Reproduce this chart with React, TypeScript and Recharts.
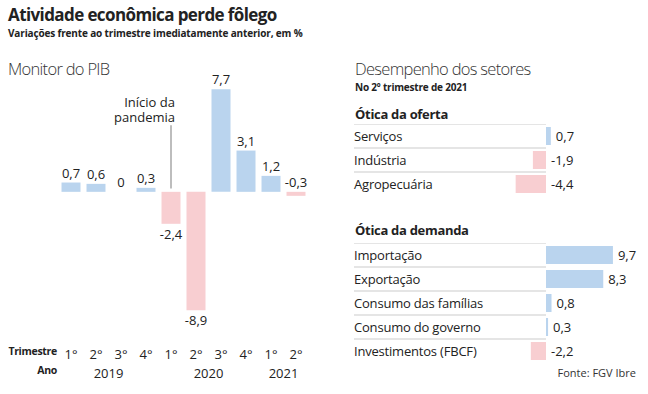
import React from 'react'
import { ComposedChart, BarChart, Bar, Line, XAxis, YAxis, Cell, LabelList, ReferenceLine } from 'recharts'

// Monitor do PIB (variação trimestral, %)
const quarters = ['1°', '2°', '3°', '4°', '1°', '2°', '3°', '4°', '1°', '2°']
const quarterYears = ['2019', '2019', '2019', '2019', '2020', '2020', '2020', '2020', '2021', '2021']
const pibValues = [0.7, 0.6, 0, 0.3, -2.4, -8.9, 7.7, 3.1, 1.2, -0.3]
const yearLabels = ['2019', '2020', '2021']

// Desempenho dos setores, 2º tri 2021
const supplySectors = ['Serviços', 'Indústria', 'Agropecuária']
const supplyValues = [0.7, -1.9, -4.4]
const demandSectors = ['Importação', 'Exportação', 'Consumo das famílias', 'Consumo do governo', 'Investimentos (FBCF)']
const demandValues = [9.7, 8.3, 0.8, 0.3, -2.2]

const BLUE = '#bad4ee'
const PINK = '#f8ced1'
const TEXT = '#222'
const FONT = '"Open Sans", "Noto Sans", sans-serif'

const fmt = (v: number) => String(v).replace('.', ',')

// small negatives get their label above the zero line, like the original
const labelAbove = (v: number) => v > -1

const pibData = pibValues.map((v, i) => ({
  key: `${quarters[i]} ${quarterYears[i]}`,
  q: quarters[i],
  year: quarterYears[i],
  value: v,
  anchor: labelAbove(v) ? Math.max(v, 0) : v,
}))
const supplyData = supplySectors.map((s, i) => ({ name: s, value: supplyValues[i] }))
const demandData = demandSectors.map((s, i) => ({ name: s, value: demandValues[i] }))

const PibLabel = (props: any) => {
  const { x, y, index } = props
  const v = pibData[index].value
  return (
    <text x={x} y={labelAbove(v) ? y - 5 : y + 15} textAnchor="middle" fontSize={13} fill={TEXT} fontFamily={FONT}>
      {fmt(v)}
    </text>
  )
}

const QuarterTick = (props: any) => {
  const { x, y, payload, index } = props
  const item = pibData[index]
  const count = pibData.filter((d) => d.year === item.year).length
  const first = pibData.findIndex((d) => d.year === item.year)
  const middle = first + Math.floor((count - 1) / 2)
  const showYear = index === middle && yearLabels.includes(item.year)
  return (
    <g>
      <text x={x} y={y + 26} textAnchor="middle" fontSize={13} fill={TEXT} fontFamily={FONT}>
        {item ? item.q : payload.value}
      </text>
      {showYear && (
        <text x={x + (count % 2 === 0 ? 12.5 : 0)} y={y + 45} textAnchor="middle" fontSize={13} fill={TEXT} fontFamily={FONT}>
          {item.year}
        </text>
      )}
    </g>
  )
}

const PandemicLabel = (props: any) => {
  const vb = props.viewBox || {}
  const x = vb.x ?? 0
  const y = Math.min(vb.y ?? 0, (vb.y ?? 0) + (vb.height ?? 0))
  return (
    <text textAnchor="end" fontSize={13} fill={TEXT} fontFamily={FONT}>
      <tspan x={x + 4} y={y - 18}>Início da</tspan>
      <tspan x={x + 4} y={y - 3}>pandemia</tspan>
    </text>
  )
}

const SectorTick = (props: any) => {
  const { y, payload } = props
  return (
    <g>
      <line x1={24} x2={216} y1={y - 12} y2={y - 12} stroke="#dcdcdc" strokeWidth={1.5} />
      <text x={24} y={y + 5} fontSize={13} letterSpacing={-0.2} fill={TEXT} fontFamily={FONT}>
        {payload.value}
      </text>
    </g>
  )
}

const SectorLabel = (props: any) => {
  const { x, y, width, height, value } = props
  const right = Math.max(x, x + width)
  return (
    <text x={right + 5} y={y + height / 2 + 5} fontSize={13} fill={TEXT} fontFamily={FONT}>
      {fmt(value)}
    </text>
  )
}

const SectorChart = ({ data, top }: { data: any[]; top: number }) => (
  <div style={{ position: 'absolute', left: 330, top }}>
    <BarChart
      width={318}
      height={data.length * 24}
      data={data}
      layout="vertical"
      margin={{ top: 0, right: 33, bottom: 0, left: 0 }}
      barSize={18}
    >
      <XAxis type="number" domain={[-5, 10]} hide />
      <YAxis type="category" dataKey="name" width={181.5} axisLine={false} tickLine={false} tick={<SectorTick />} interval={0} />
      <Bar dataKey="value" isAnimationActive={false}>
        {data.map((d, i) => (
          <Cell key={i} fill={d.value >= 0 ? BLUE : PINK} />
        ))}
        <LabelList dataKey="value" content={<SectorLabel />} />
      </Bar>
    </BarChart>
  </div>
)

export default function App() {
  return (
    <div style={{ position: 'absolute', left: 0, top: 0, width: 648, height: 394, background: '#fff', fontFamily: FONT, color: TEXT, overflow: 'hidden' }}>
      <div style={{ position: 'absolute', left: 8, top: 3, fontSize: 17, letterSpacing: -0.6, fontWeight: 700, whiteSpace: 'nowrap' }}>
        Atividade econômica perde fôlego
      </div>
      <div style={{ position: 'absolute', left: 8, top: 26, fontSize: 10, letterSpacing: -0.15, fontWeight: 700, whiteSpace: 'nowrap' }}>
        Variações frente ao trimestre imediatamente anterior, em %
      </div>
      <div style={{ position: 'absolute', left: 8, top: 57, fontSize: 16.5, letterSpacing: -0.7, fontWeight: 300, color: '#333', whiteSpace: 'nowrap' }}>
        Monitor do PIB
      </div>

      <div style={{ position: 'absolute', left: 0, top: 0 }}>
        <ComposedChart
          width={330}
          height={394}
          data={pibData}
          margin={{ top: 72, right: 21.5, bottom: 9, left: 58.5 }}
          barSize={19}
        >
          <XAxis dataKey="key" height={60} axisLine={false} tickLine={false} interval={0} tick={<QuarterTick />} />
          <YAxis type="number" domain={[-10, 9]} hide />
          <ReferenceLine
            segment={[{ x: '1° 2020', y: 5 }, { x: '1° 2020', y: 0.25 }]}
            stroke="#bdbdbd"
            strokeWidth={2}
            label={<PandemicLabel />}
          />
          <Bar dataKey="value" isAnimationActive={false}>
            {pibData.map((d, i) => (
              <Cell key={i} fill={d.value >= 0 ? BLUE : PINK} />
            ))}
          </Bar>
          <Line dataKey="anchor" stroke="none" dot={false} activeDot={false} isAnimationActive={false}>
            <LabelList dataKey="anchor" content={<PibLabel />} />
          </Line>
        </ComposedChart>
      </div>

      <div style={{ position: 'absolute', left: 0, top: 344, width: 57, textAlign: 'right', fontSize: 10.5, letterSpacing: -0.3, fontWeight: 700, whiteSpace: 'nowrap' }}>
        Trimestre
      </div>
      <div style={{ position: 'absolute', left: 0, top: 363, width: 57, textAlign: 'right', fontSize: 10.5, letterSpacing: -0.3, fontWeight: 700, whiteSpace: 'nowrap' }}>
        Ano
      </div>

      <div style={{ position: 'absolute', left: 355, top: 57, fontSize: 16.5, letterSpacing: -0.7, fontWeight: 300, color: '#333', whiteSpace: 'nowrap' }}>
        Desempenho dos setores
      </div>
      <div style={{ position: 'absolute', left: 355, top: 80, fontSize: 10, letterSpacing: -0.2, fontWeight: 700, whiteSpace: 'nowrap' }}>
        No 2º trimestre de 2021
      </div>
      <div style={{ position: 'absolute', left: 355, top: 105, fontSize: 13, letterSpacing: -0.3, fontWeight: 700, whiteSpace: 'nowrap' }}>
        Ótica da oferta
      </div>
      <SectorChart data={supplyData} top={124} />
      <div style={{ position: 'absolute', left: 355, top: 221, fontSize: 13, letterSpacing: -0.3, fontWeight: 700, whiteSpace: 'nowrap' }}>
        Ótica da demanda
      </div>
      <SectorChart data={demandData} top={243} />
      <div style={{ position: 'absolute', right: 12, top: 365, fontSize: 11, color: '#333', whiteSpace: 'nowrap' }}>
        Fonte: FGV Ibre
      </div>
    </div>
  )
}
